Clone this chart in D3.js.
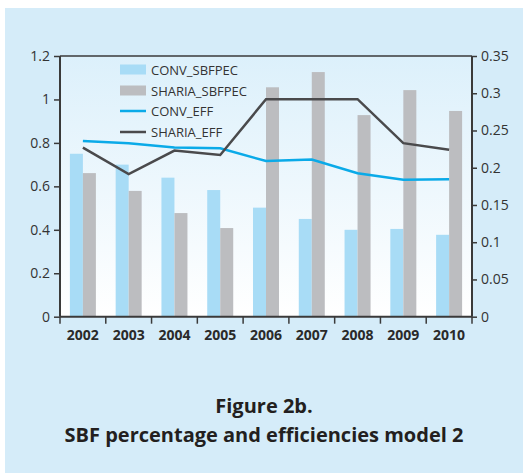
<!DOCTYPE html>
<html><head><meta charset="utf-8">
<script src="https://cdn.jsdelivr.net/npm/d3@7"></script>
<style>body{margin:0;background:#fff}svg{display:block}</style>
</head><body>
<svg id="c" width="526" height="473"></svg>
<script>
const years = ["2002","2003","2004","2005","2006","2007","2008","2009","2010"];
const convSbfpec = [0.75,0.70,0.64,0.583,0.502,0.45,0.40,0.404,0.377];
const shariaSbfpec = [0.661,0.579,0.477,0.408,1.056,1.126,0.928,1.043,0.947];
const convEff = [0.236,0.233,0.227,0.226,0.209,0.211,0.1925,0.184,0.1845];
const shariaEff = [0.227,0.1915,0.223,0.217,0.292,0.292,0.292,0.233,0.224];
const leftTicks = [0,0.2,0.4,0.6,0.8,1,1.2];
const rightTicks = [0,0.05,0.1,0.15,0.2,0.25,0.3,0.35];
const seriesNames = ["CONV_SBFPEC","SHARIA_SBFPEC","CONV_EFF","SHARIA_EFF"];
const titleLines = ["Figure 2b.","SBF percentage and efficiencies model 2"];

const svg = d3.select("#c");
const font = "'Open Sans', 'Noto Sans', sans-serif";
const L=60, R=472, T=56, B=316.7;
const axisCol="#3a3a3a";

svg.append("rect").attr("x",5).attr("y",8).attr("width",518).attr("height",465).attr("fill","#d5ecf9");
const defs = svg.append("defs");
const g = defs.append("linearGradient").attr("id","pg").attr("x1",0).attr("y1",0).attr("x2",0).attr("y2",1);
g.append("stop").attr("offset","0%").attr("stop-color","#dcf0fb");
g.append("stop").attr("offset","100%").attr("stop-color","#ffffff");
svg.append("rect").attr("x",L).attr("y",T).attr("width",R-L).attr("height",B-T).attr("fill","url(#pg)");

const x = d3.scaleBand().domain(years).range([L,R]);
const yL = d3.scaleLinear().domain([0,1.2]).range([B,T]);
const yR = d3.scaleLinear().domain([0,0.35]).range([B,T]);
const bw = 13;

svg.append("g").selectAll("rect").data(years).join("rect")
  .attr("x",d=>x(d)+x.bandwidth()/2-bw).attr("width",bw)
  .attr("y",(d,i)=>yL(convSbfpec[i])).attr("height",(d,i)=>B-yL(convSbfpec[i]))
  .attr("fill","#a8dcf6");
svg.append("g").selectAll("rect").data(years).join("rect")
  .attr("x",d=>x(d)+x.bandwidth()/2).attr("width",bw)
  .attr("y",(d,i)=>yL(shariaSbfpec[i])).attr("height",(d,i)=>B-yL(shariaSbfpec[i]))
  .attr("fill","#bcbdc0");

const line = d3.line().x((d,i)=>x(years[i])+x.bandwidth()/2).y(d=>yR(d));
svg.append("path").datum(convEff).attr("d",line).attr("fill","none").attr("stroke","#0aaae8").attr("stroke-width",2.5);
svg.append("path").datum(shariaEff).attr("d",line).attr("fill","none").attr("stroke","#4a4a4c").attr("stroke-width",2.5);

// top border
svg.append("line").attr("x1",L).attr("x2",R).attr("y1",T).attr("y2",T).attr("stroke",axisCol).attr("stroke-width",1.5);

const ax = svg.append("g").attr("transform",`translate(${L},0)`)
  .call(d3.axisLeft(yL).tickValues(leftTicks).tickSize(6).tickPadding(4).tickFormat(d=>d3.format("")(d)));
const axr = svg.append("g").attr("transform",`translate(${R},0)`)
  .call(d3.axisRight(yR).tickValues(rightTicks).tickSize(5).tickPadding(4).tickFormat(d=>String(+d.toFixed(2))));
[ax,axr].forEach(a=>{
  a.select(".domain").attr("stroke",axisCol).attr("stroke-width",2).attr("d",`M0,${T}V${B}`);
  a.selectAll(".tick line").attr("stroke",axisCol).attr("stroke-width",1.5);
  a.selectAll("text").attr("font-family",font).attr("font-size",14).attr("fill","#333");
});

// x axis
svg.append("line").attr("x1",L).attr("x2",R).attr("y1",B).attr("y2",B).attr("stroke",axisCol).attr("stroke-width",2);
const bounds = years.map(d=>x(d)).concat([R]);
svg.append("g").selectAll("line").data(bounds).join("line")
  .attr("x1",d=>d).attr("x2",d=>d).attr("y1",B).attr("y2",B+7).attr("stroke",axisCol).attr("stroke-width",1.5);
svg.append("g").selectAll("text").data(years).join("text")
  .attr("x",d=>x(d)+x.bandwidth()/2).attr("y",B+23).attr("text-anchor","middle")
  .attr("font-family",font).attr("font-size",14).attr("font-weight","bold").attr("fill","#2a2a2a").text(d=>d);

// legend
const lg = svg.append("g");
const ly = [69.5,90.5,111,132];
const lx = 120;
lg.append("rect").attr("x",lx).attr("y",ly[0]-5).attr("width",26).attr("height",10).attr("fill","#a8dcf6");
lg.append("rect").attr("x",lx).attr("y",ly[1]-5).attr("width",26).attr("height",10).attr("fill","#bcbdc0");
lg.append("line").attr("x1",lx).attr("x2",lx+26).attr("y1",ly[2]).attr("y2",ly[2]).attr("stroke","#0aaae8").attr("stroke-width",2.5);
lg.append("line").attr("x1",lx).attr("x2",lx+26).attr("y1",ly[3]).attr("y2",ly[3]).attr("stroke","#4a4a4c").attr("stroke-width",2.5);
lg.selectAll("text").data(seriesNames).join("text")
  .attr("x",lx+31).attr("y",(d,i)=>ly[i]+5).attr("font-family",font).attr("font-size",13)
  .attr("fill","#333").text(d=>d);

// title
svg.selectAll("text.t").data(titleLines).join("text").attr("class","t")
  .attr("x",264).attr("y",(d,i)=>413+i*28.5).attr("text-anchor","middle")
  .attr("font-family",font).attr("font-size",20).attr("font-weight","bold").attr("fill","#231f20").text(d=>d);
</script>
</body></html>
